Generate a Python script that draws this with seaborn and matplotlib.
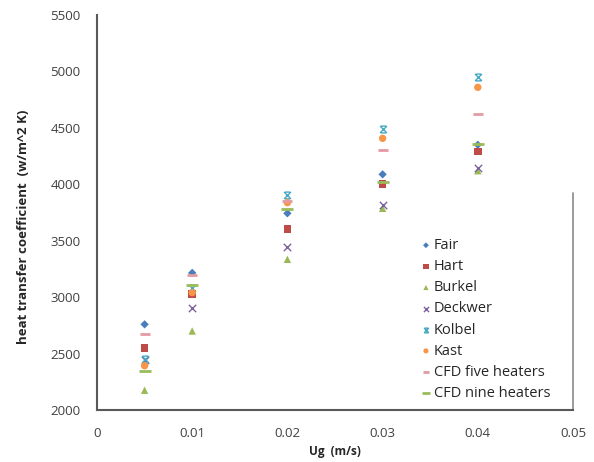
import numpy as np
import pandas as pd
import matplotlib
matplotlib.use("Agg")
import matplotlib.pyplot as plt
from matplotlib.path import Path
import seaborn as sns

ug = [0.005, 0.01, 0.02, 0.03, 0.04]
fair = [2759, 3215, 3743, 4088, 4350]
hart = [2547, 3030, 3605, 4000, 4289]
burkel = [2175, 2700, 3335, 3787, 4120]
deckwer = [2440, 2901, 3447, 3816, 4140]
kolbel = [2449, 3085, 3905, 4487, 4953]
kast = [2392, 3040, 3837, 4407, 4859]
cfd_five = [2671, 3200, 3850, 4304, 4623]
cfd_nine = [2348, 3105, 3780, 4020, 4357]

series = ["Fair", "Hart", "Burkel", "Deckwer", "Kolbel", "Kast",
          "CFD five heaters", "CFD nine heaters"]
values = [fair, hart, burkel, deckwer, kolbel, kast, cfd_five, cfd_nine]

df = pd.DataFrame({
    "Ug": np.tile(ug, len(series)),
    "h": np.concatenate(values),
    "Series": np.repeat(series, len(ug)),
})

kolbel_marker = Path(
    [(-1, -1), (1, 1), (-1, 1), (1, -1), (-0.8, 1), (0.8, 1), (-0.8, -1), (0.8, -1)],
    [Path.MOVETO, Path.LINETO, Path.MOVETO, Path.LINETO,
     Path.MOVETO, Path.LINETO, Path.MOVETO, Path.LINETO])

palette = {
    "Fair": "#4a7ebb",
    "Hart": "#be4b48",
    "Burkel": "#98b954",
    "Deckwer": "#7d60a0",
    "Kolbel": "#46aac5",
    "Kast": "#f79646",
    "CFD five heaters": "#e39aa3",
    "CFD nine heaters": "#9bbb59",
}
markers = {
    "Fair": "D",
    "Hart": "s",
    "Burkel": "^",
    "Deckwer": "x",
    "Kolbel": kolbel_marker,
    "Kast": "o",
    "CFD five heaters": "_",
    "CFD nine heaters": "_",
}
sizes = {
    "Fair": 18, "Hart": 30, "Burkel": 28, "Deckwer": 28, "Kolbel": 24,
    "Kast": 28, "CFD five heaters": 50, "CFD nine heaters": 70,
}

sns.set_theme(style="white")
plt.rcParams["font.family"] = ["Open Sans", "DejaVu Sans"]

fig = plt.figure(figsize=(5.94, 4.62), dpi=100)
ax = fig.add_axes([97 / 594, 1 - 410 / 462, 476 / 594, 395 / 462])

for s in series:
    sub = df[df["Series"] == s]
    lined = markers[s] in ("x", "_") or s == "Kolbel"
    lw = 2.0 if s.startswith("CFD") else 1.0
    sns.scatterplot(data=sub, x="Ug", y="h", ax=ax, color=palette[s],
                    marker=markers[s], s=sizes[s], label=s,
                    linewidth=lw if lined else 0,
                    edgecolor=palette[s] if lined else "none",
                    zorder=3)

ax.set_xlim(0, 0.05)
ax.set_ylim(2000, 5500)
ax.set_xticks([0, 0.01, 0.02, 0.03, 0.04, 0.05])
ax.set_xticklabels(["0", "0.01", "0.02", "0.03", "0.04", "0.05"])
ax.set_yticks(np.arange(2000, 5501, 500))

for side in ["top", "right"]:
    ax.spines[side].set_visible(False)
for side in ["left", "bottom"]:
    ax.spines[side].set_color("#595959")
    ax.spines[side].set_linewidth(1.5)

ax.tick_params(axis="both", direction="in", length=5, width=1.2, color="#595959",
               labelsize=9.5, labelcolor="#404040")
ax.tick_params(axis="x", pad=12)
ax.tick_params(axis="y", pad=12)

ax.axvline(0.05, ymin=0, ymax=0.55, color="#8a8a8a", lw=1.2, clip_on=False)

ax.set_xlabel("Ug  (m/s)", fontsize=8.5, fontweight="bold", color="#262626", labelpad=4)
ax.set_ylabel("heat transfer coefficient  (w/m^2 K)", fontsize=9.5, fontweight="bold",
              color="#262626")
ax.yaxis.set_label_coords(-0.14, 0.465)

leg = ax.legend(loc="upper left", bbox_to_anchor=(0.665, 0.45), frameon=False,
                fontsize=10.5, handletextpad=0.1, labelspacing=0.42,
                handlelength=0.9, borderaxespad=0, markerscale=0.7)
for t in leg.get_texts():
    t.set_color("#262626")

fig.savefig("out.png", dpi=100)
